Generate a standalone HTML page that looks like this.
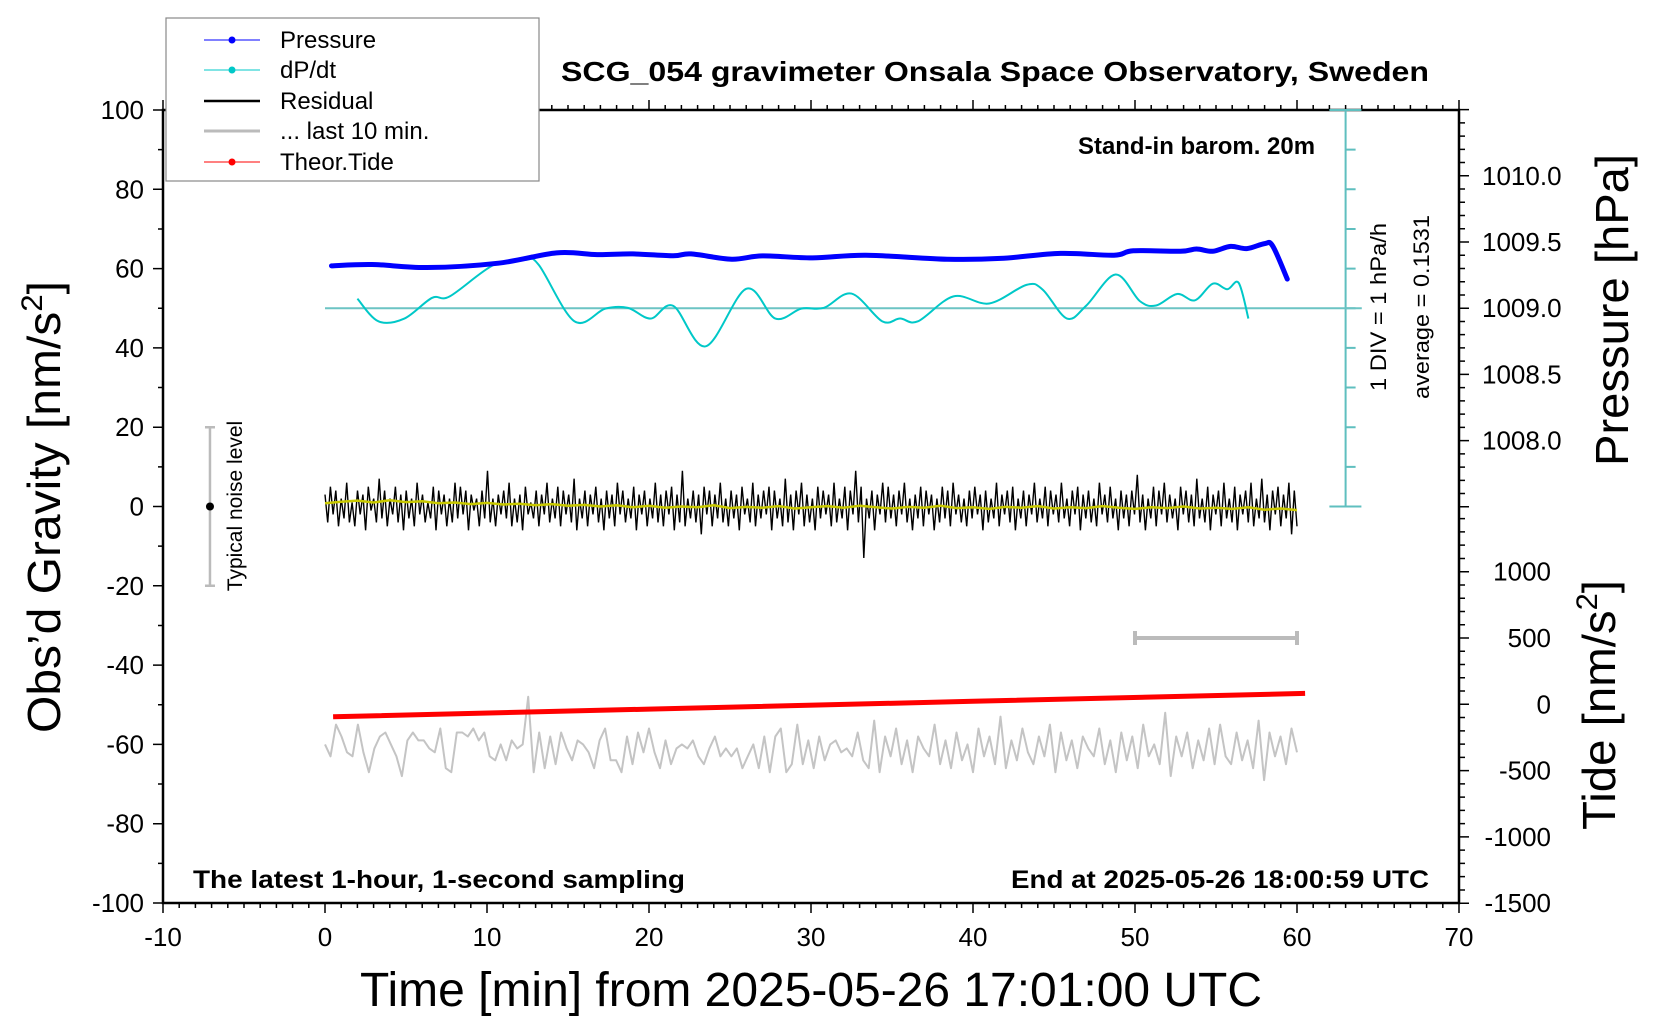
<!DOCTYPE html>
<html><head><meta charset="utf-8"><style>
html,body{margin:0;padding:0;background:#fff}
svg{display:block}
text{font-family:"Liberation Sans",sans-serif}
</style></head><body>
<svg id="chart" width="1660" height="1020" viewBox="0 0 1660 1020" xmlns="http://www.w3.org/2000/svg">
<rect width="1660" height="1020" fill="#fff"/>
<g id="axes"></g>
<g id="marks"></g>
<text x="995" y="81" text-anchor="middle" font-size="28" font-weight="bold" textLength="868" lengthAdjust="spacingAndGlyphs">SCG_054 gravimeter Onsala Space Observatory, Sweden</text>
<text x="1315" y="154" text-anchor="end" font-size="24" font-weight="bold" textLength="237" lengthAdjust="spacingAndGlyphs">Stand-in barom. 20m</text>
<text x="193" y="888" font-size="25" font-weight="bold" textLength="492" lengthAdjust="spacingAndGlyphs">The latest 1-hour, 1-second sampling</text>
<text x="1429" y="888" text-anchor="end" font-size="25" font-weight="bold" textLength="418" lengthAdjust="spacingAndGlyphs">End at 2025-05-26 18:00:59 UTC</text>
<text x="811" y="1006" text-anchor="middle" font-size="48" textLength="902" lengthAdjust="spacingAndGlyphs">Time [min] from 2025-05-26 17:01:00 UTC</text>
<text transform="translate(60,507) rotate(-90)" text-anchor="middle" font-size="46" textLength="452" lengthAdjust="spacingAndGlyphs">Obs’d Gravity [nm/s<tspan font-size="30" dy="-18">2</tspan><tspan dy="18">]</tspan></text>
<text transform="translate(1628,310) rotate(-90)" text-anchor="middle" font-size="46" textLength="312" lengthAdjust="spacingAndGlyphs">Pressure [hPa]</text>
<text transform="translate(1615,705) rotate(-90)" text-anchor="middle" font-size="46" textLength="250" lengthAdjust="spacingAndGlyphs">Tide [nm/s<tspan font-size="30" dy="-18">2</tspan><tspan dy="18">]</tspan></text>
<text transform="translate(1386,307) rotate(-90)" text-anchor="middle" font-size="22" textLength="168" lengthAdjust="spacingAndGlyphs">1 DIV = 1 hPa/h</text>
<text transform="translate(1429,307) rotate(-90)" text-anchor="middle" font-size="22" textLength="184" lengthAdjust="spacingAndGlyphs">average = 0.1531</text>
<text transform="translate(242,506) rotate(-90)" text-anchor="middle" font-size="21">Typical noise level</text>
<g>
<rect x="166" y="18" width="373" height="163" fill="#fff" stroke="#888" stroke-width="1.2"/>
<g><line x1="204" y1="40" x2="260" y2="40" stroke="#0000ff" stroke-width="1"/><circle cx="232" cy="40" r="3.5" fill="#0000ff"/><text x="280" y="48" font-size="24">Pressure</text></g>
<g><line x1="204" y1="70" x2="260" y2="70" stroke="#00c8c8" stroke-width="1"/><circle cx="232" cy="70" r="3.5" fill="#00c8c8"/><text x="280" y="78" font-size="24">dP/dt</text></g>
<g><line x1="204" y1="101" x2="260" y2="101" stroke="#000" stroke-width="2.5"/><text x="280" y="109" font-size="24">Residual</text></g>
<g><line x1="204" y1="131" x2="260" y2="131" stroke="#bbb" stroke-width="3"/><text x="280" y="139" font-size="24">... last 10 min.</text></g>
<g><line x1="204" y1="162" x2="260" y2="162" stroke="#ff0000" stroke-width="1"/><circle cx="232" cy="162" r="3.5" fill="#ff0000"/><text x="280" y="170" font-size="24">Theor.Tide</text></g>
</g>
</svg>
<script>
// ---- data ----
const pressureTimes = [0.4,2.9,6.3,10.7,14.3,16.8,19.0,21.5,22.6,25.1,27.0,30.1,33.4,38.4,41.7,45.4,48.7,49.9,52.8,53.8,54.8,55.9,56.9,58.0,58.5,59.4];
const pressureValues = [1009.32,1009.33,1009.307,1009.34,1009.418,1009.405,1009.41,1009.396,1009.41,1009.37,1009.395,1009.38,1009.40,1009.37,1009.376,1009.414,1009.40,1009.434,1009.43,1009.447,1009.43,1009.467,1009.45,1009.488,1009.47,1009.22];
const dpdtTimes = [2.0,3.3,4.9,6.6,7.7,10.4,12.35,13.2,15.4,17.3,18.7,20.1,21.5,23.5,26.0,27.8,29.4,30.8,32.5,34.4,35.5,36.6,38.8,41.0,43.3,44.3,45.8,47.0,48.8,50.3,51.3,52.6,53.7,54.8,55.7,56.4,57.0];
const dpdtValues = [0.24,-0.33,-0.26,0.26,0.3,1.09,1.22,1.09,-0.33,-0.01,0.01,-0.26,0.06,-0.96,0.49,-0.26,-0.01,0.01,0.37,-0.33,-0.26,-0.33,0.3,0.12,0.59,0.47,-0.26,0.07,0.85,0.18,0.07,0.36,0.2,0.62,0.48,0.64,-0.26];
const tideTimes = [0.5,20,40,60.5];
const tideValues = [-94,-36,23,82];
const residualValues = [
3,-4,5,-2,4,-5,2,-3,6,-4,1,-5,4,-2,3,-6,5,-1,2,-4,7,-3,4,-5,2,-2,5,-4,3,-6,
4,-3,2,-5,6,-2,3,-4,1,-3,5,-6,4,-2,3,-5,2,-4,6,-3,5,-2,4,-6,3,-1,2,-5,4,-3,
9,-4,2,-5,3,-2,4,-3,6,-5,2,-4,3,-6,5,-2,1,-3,4,-5,3,-2,6,-4,2,-3,5,-5,4,-2,
3,-4,7,-6,2,-3,4,-5,3,-2,5,-4,2,-6,4,-3,3,-5,6,-2,4,-4,2,-3,5,-6,3,-2,4,-5,
2,-3,6,-4,3,-5,4,-2,5,-6,3,-4,9,-5,2,-3,4,-4,3,-7,5,-2,4,-5,3,-3,6,-4,2,-5,
4,-3,3,-6,5,-2,2,-4,6,-5,3,-3,4,-2,5,-6,4,-3,2,-5,7,-4,3,-6,4,-2,6,-5,3,-4,
2,-6,5,-3,4,-2,3,-5,6,-4,2,-3,5,-6,4,-2,9,-4,5,-13,2,-3,4,-6,3,-2,6,-4,5,-3,
3,-5,4,-2,6,-4,2,-6,3,-3,5,-5,4,-2,3,-6,2,-4,5,-3,4,-5,6,-2,3,-4,2,-5,4,-3,
5,-2,3,-6,4,-4,2,-3,6,-5,3,-2,4,-4,5,-6,2,-3,4,-5,3,-2,6,-4,2,-3,5,-5,4,-2,
3,-4,6,-3,2,-5,4,-2,5,-6,3,-3,4,-4,2,-5,6,-2,3,-4,5,-3,2,-6,4,-3,3,-5,4,-2,
8,-4,3,-6,2,-3,5,-5,4,-2,6,-4,3,-3,2,-6,5,-2,4,-4,3,-5,7,-3,2,-4,5,-6,3,-2,
4,-5,6,-3,2,-4,5,-6,3,-2,4,-4,6,-5,2,-3,7,-4,3,-6,4,-2,5,-5,3,-3,6,-7,4,-5];
const smoothValues = [0.8,1.2,1.5,1.0,1.6,1.1,1.3,0.8,1.0,0.6,0.9,0.5,0.7,0.3,0.6,0.2,0.4,0.0,0.3,-0.2,0.2,-0.3,0.0,-0.2,0.3,-0.4,-0.1,-0.3,0.1,-0.5,-0.2,0.1,-0.3,0.2,-0.2,-0.5,-0.1,-0.3,0.2,-0.4,-0.2,-0.6,-0.1,-0.3,0.1,-0.5,-0.2,-0.4,0.1,-0.3,-0.6,-0.2,-0.4,0.0,-0.5,-0.3,-0.6,-0.2,-0.8,-0.5,-0.9];
const lastTenValues = [
1,-2,6,3,-1,-2,6,-1,-6,0,3,4,1,-2,-7,2,4,2,2,0,
-1,5,-5,-6,4,4,3,5,2,4,-2,-3,1,-3,2,0,1,13,-6,4,
-5,3,-4,4,0,-3,2,1,-1,-5,2,5,-3,-3,-6,3,-4,4,-1,5,
-1,-5,2,-4,0,1,0,2,-2,-4,0,3,-2,0,-2,0,-5,-2,1,-5,
3,-6,3,5,-6,-4,6,-4,2,-5,3,-3,1,2,-1,0,-2,4,-3,-5,
7,-6,3,-2,5,-4,2,-6,3,0,-2,6,-4,2,-5,4,-3,1,-6,5,
-2,3,-4,8,-5,2,-3,5,-1,-4,3,-2,6,-6,4,-3,2,-5,3,0,
-2,5,-4,2,-6,4,-3,3,-5,6,-2,1,-4,9,-7,3,-2,4,-5,2,
-3,5,-4,6,-2,-4,4,-3,2,-5,7,-8,4,-2,3,-4,5,-1];
const xTicks = [-10,0,10,20,30,40,50,60,70];
const yTicks = [100,80,60,40,20,0,-20,-40,-60,-80,-100];
const pressureTicks = ['1010.0','1009.5','1009.0','1008.5','1008.0'];
const tideTicks = [1000,500,0,-500,-1000,-1500];

// ---- axis functions ----
const X0=163, X1=1459, Y0=110, Y1=903;
const xS = t => X0 + (t+10)*(X1-X0)/80;
const yG = v => 506.5 - v*3.965;
const pY = p => 308.2 - (p-1009)*132.4;
const tY = v => 704.3 - v*0.1326;
const dY = v => yG(50 + v*10);

const NS='http://www.w3.org/2000/svg';
function mk(tag, parent, attrs){const e=document.createElementNS(NS,tag);for(const k in attrs)e.setAttribute(k,attrs[k]);parent.appendChild(e);return e;}
const axes=document.getElementById('axes'), marks=document.getElementById('marks');

const frame=mk('rect',axes,{x:X0,y:Y0,width:X1-X0,height:Y1-Y0,fill:'none',stroke:'#000','stroke-width':2.5});


let tk='';
for(let t=-10;t<=70;t++){const L=(t%10===0)?10:5;const x=xS(t);tk+=`M${x},${Y1}v${L}M${x},${Y0}v${-L}`;}
for(let v=-100;v<=100;v+=10){const L=(v%20===0)?10:5;tk+=`M${X0},${yG(v)}h${-L}`;}
for(let p=1007.5;p<=1010.5+1e-9;p+=0.1){const y=pY(p);if(y<Y0-1||y>507)continue;const maj=Math.abs(p*2-Math.round(p*2))<1e-6;tk+=`M${X1},${y}h${maj?10:6}`;}
for(let v=-1500;v<=1400;v+=100){const y=tY(v);if(y<506||y>Y1+1)continue;tk+=`M${X1},${y}h${v%500===0?10:6}`;}
const ticks=mk('path',axes,{d:tk,stroke:'#000','stroke-width':1.5,fill:'none'});



xTicks.forEach(t=>{const e=mk('text',axes,{x:xS(t),y:946,'text-anchor':'middle','font-size':26});e.textContent=t;

});
yTicks.forEach(v=>{const e=mk('text',axes,{x:144,y:yG(v)+9,'text-anchor':'end','font-size':26});e.textContent=v;

});
pressureTicks.forEach(s=>{const e=mk('text',axes,{x:1482,y:pY(parseFloat(s))+9,'font-size':26});e.textContent=s;

});
tideTicks.forEach(v=>{const e=mk('text',axes,{x:1551,y:tY(v)+9,'text-anchor':'end','font-size':26});e.textContent=v;

});

let sc=`M${xS(63)},${yG(100)}V${yG(0)}M${xS(62)},${yG(100)}h32M${xS(62)},${yG(0)}h32`;
for(let v=10;v<100;v+=10) sc+=`M${xS(63)},${yG(v)}h10`;
const scale=mk('path',marks,{d:sc,stroke:'#5fbfbf','stroke-width':2,fill:'none'});


const base=mk('line',marks,{x1:xS(0),x2:xS(64),y1:dY(0),y2:dY(0),stroke:'#6cc4c4','stroke-width':2});



function smooth(pts){let d=`M${pts[0][0]},${pts[0][1]}`;for(let i=0;i<pts.length-1;i++){const p0=pts[Math.max(0,i-1)],p1=pts[i],p2=pts[i+1],p3=pts[Math.min(pts.length-1,i+2)];
d+=`C${p1[0]+(p2[0]-p0[0])/6},${p1[1]+(p2[1]-p0[1])/6} ${p2[0]-(p3[0]-p1[0])/6},${p2[1]-(p3[1]-p1[1])/6} ${p2[0]},${p2[1]}`;}return d;}
function poly(pts){return 'M'+pts.map(p=>p[0].toFixed(1)+','+p[1].toFixed(1)).join('L');}

const lt=mk('path',marks,{d:poly(lastTenValues.map((v,i)=>[xS(i*60/(lastTenValues.length-1)),yG(-61+v)])),stroke:'#c4c4c4','stroke-width':2,fill:'none','stroke-linejoin':'round'});


const td=mk('path',marks,{d:poly(tideTimes.map((t,i)=>[xS(t),tY(tideValues[i])])),stroke:'#ff0000','stroke-width':5,fill:'none'});


const rs=mk('path',marks,{d:poly(residualValues.map((v,i)=>[xS(i*60/(residualValues.length-1)),yG(v)])),stroke:'#000','stroke-width':1.4,fill:'none'});


const sm=mk('path',marks,{d:poly(smoothValues.map((v,i)=>[xS(i*60/(smoothValues.length-1)),yG(v)])),stroke:'#c8c800','stroke-width':2.5,fill:'none'});


const dp=mk('path',marks,{d:smooth(dpdtTimes.map((t,i)=>[xS(t),dY(dpdtValues[i])])),stroke:'#00c8c8','stroke-width':2,fill:'none'});


const pr=mk('path',marks,{d:smooth(pressureTimes.map((t,i)=>[xS(t),pY(pressureValues[i])])),stroke:'#0000ff','stroke-width':5,fill:'none','stroke-linecap':'round'});



const nb=mk('path',marks,{d:`M${xS(-7.1)},${yG(20)}V${yG(-20)}M${xS(-7.1)-5},${yG(20)}h10M${xS(-7.1)-5},${yG(-20)}h10`,stroke:'#bbb','stroke-width':2.5,fill:'none'});


const nd=mk('circle',marks,{cx:xS(-7.1),cy:yG(0),r:4,fill:'#000'});


const tb=mk('path',marks,{d:`M${xS(50)},${tY(500)}H${xS(60)}M${xS(50)},${tY(500)-7}v14M${xS(60)},${tY(500)-7}v14`,stroke:'#bbb','stroke-width':4,fill:'none'});


</script>
</body></html>
